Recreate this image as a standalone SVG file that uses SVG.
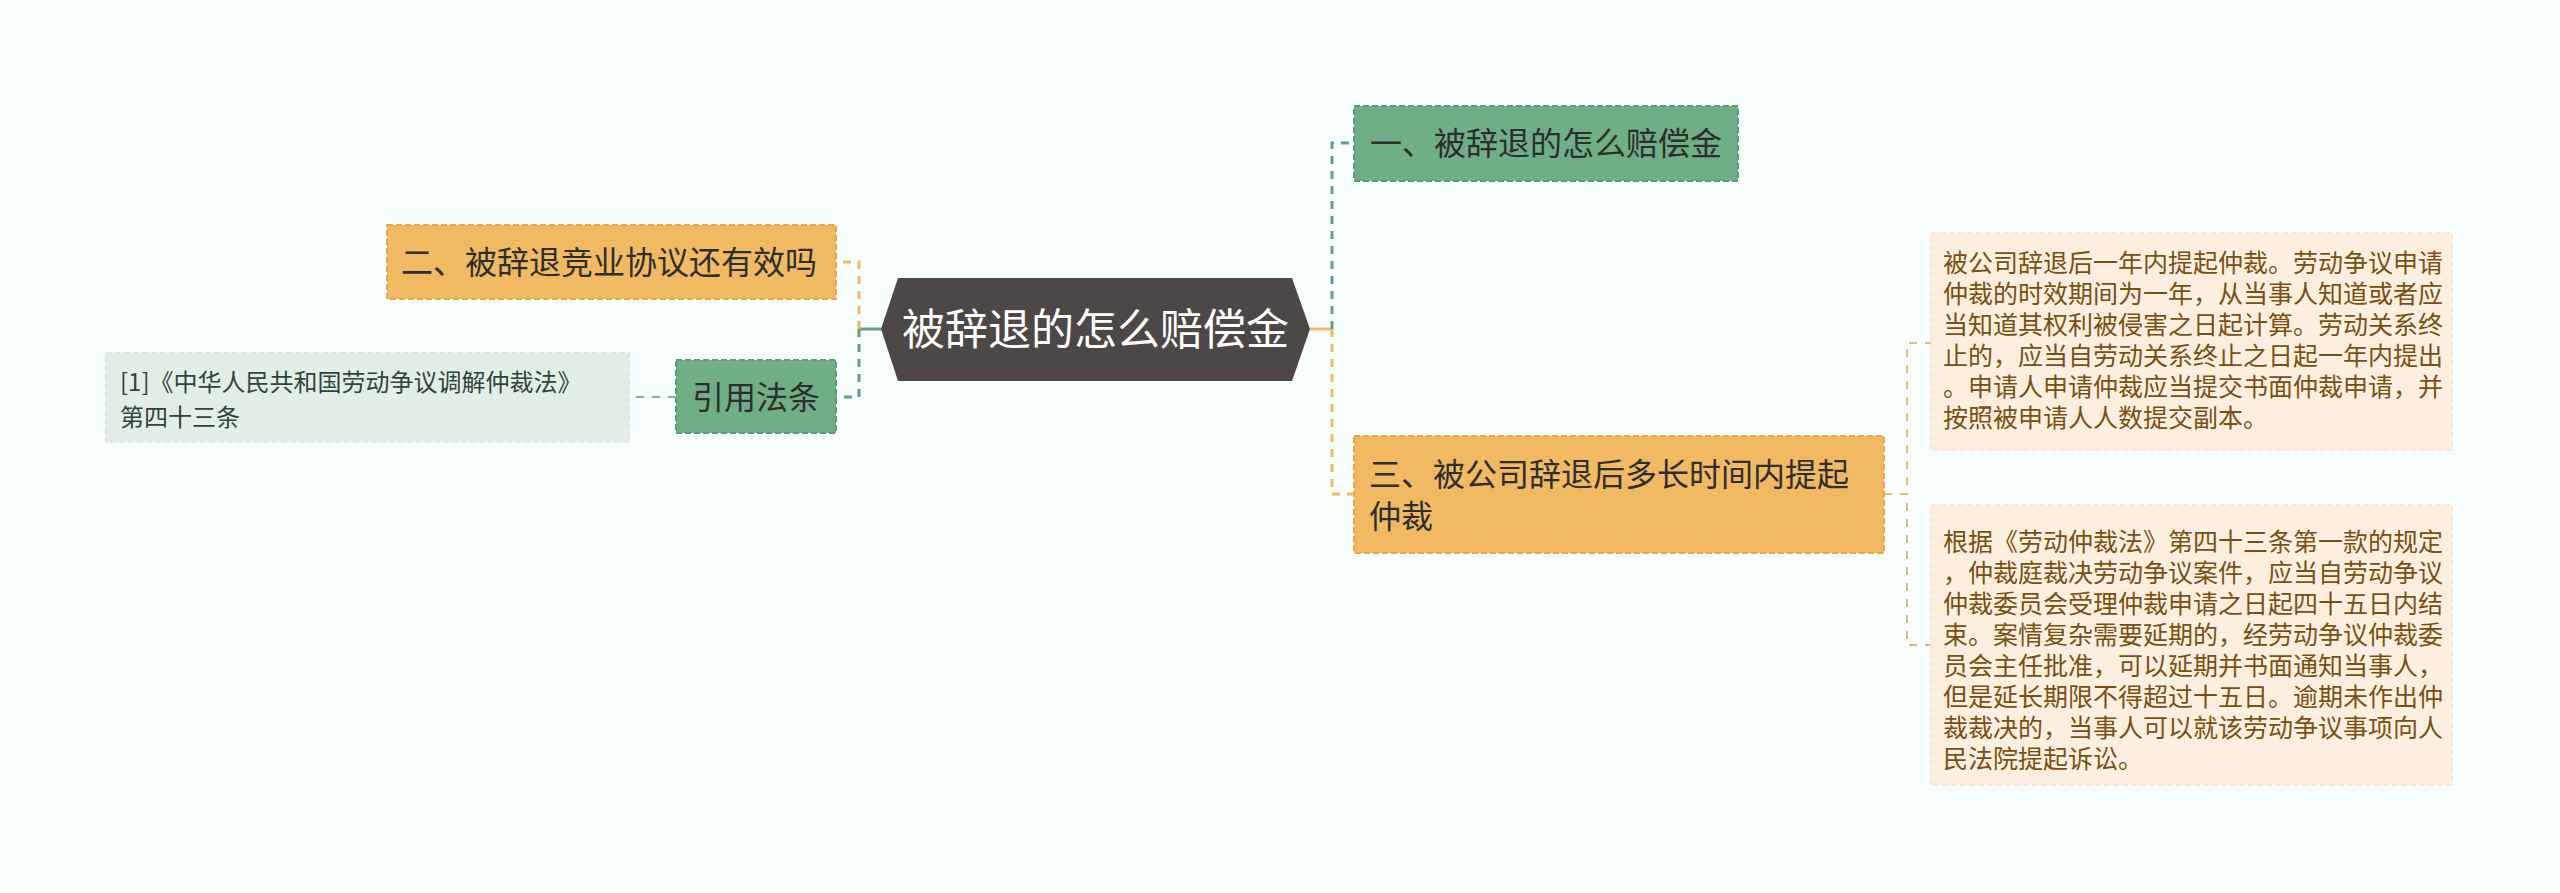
<svg xmlns="http://www.w3.org/2000/svg" width="2560" height="893" viewBox="0 0 2560 893">
<style>
  text { font-family: "Noto Sans CJK SC", "Noto Sans", sans-serif; }
  .n-or { fill: #f0b962; stroke: #e3a74e; stroke-width: 2; stroke-dasharray: 6 3; }
  .n-gr { fill: #6fae87; stroke: #5c9c76; stroke-width: 2; stroke-dasharray: 6 3; }
  .t-node { font-size: 32px; fill: #2e2e2e; }
  .leaf-or { fill: #fcefe0; stroke: #f6e3cd; stroke-width: 1.5; stroke-dasharray: 6 3; }
  .leaf-gr { fill: #e2efe7; stroke: #d6e8dc; stroke-width: 1.5; stroke-dasharray: 6 3; }
  .t-leaf-or { font-size: 25px; fill: #7a5012; }
  .t-leaf-gr { font-size: 24px; fill: #30453a; }
  .c-solid-gr { fill: none; stroke: #5fa27e; stroke-width: 3; }
  .c-solid-or { fill: none; stroke: #f0b962; stroke-width: 3; }
  .c-gr { fill: none; stroke: #5fa27e; stroke-width: 3; stroke-dasharray: 8 7; }
  .c-or { fill: none; stroke: #f0b962; stroke-width: 3; stroke-dasharray: 8 7; }
  .c-thin-or { fill: none; stroke: #e6b97c; stroke-width: 2; stroke-dasharray: 8 8; }
  .c-thin-gr { fill: none; stroke: #86ad96; stroke-width: 2; stroke-dasharray: 8 8; }
</style>
<rect x="0" y="0" width="2560" height="893" fill="#f8fdfd"/>

<g id="connectors">
  <path class="c-solid-gr" d="M881,329 H859"/>
  <path class="c-or" d="M859,329 V262 H836"/>
  <path class="c-gr" d="M859,329 V397 H836"/>
  <path class="c-thin-gr" d="M676,397 H629"/>
  <path class="c-solid-or" d="M1310,329 H1332"/>
  <path class="c-gr" d="M1332,329 V143 H1354"/>
  <path class="c-or" d="M1332,329 V494 H1354"/>
  <path class="c-thin-or" d="M1884,494 H1907 V343 H1931"/>
  <path class="c-thin-or" d="M1884,494 H1907 V645 H1931"/>
</g>

<g id="root">
  <polygon points="881,329 898,278 1292,278 1310,329 1292,381 898,381" fill="#4d4747"/>
  <text x="1095.5" y="345" font-size="43" fill="#ffffff" text-anchor="middle">被辞退的怎么赔偿金</text>
</g>

<g id="node-yi">
  <rect class="n-gr" x="1354" y="106" width="384" height="75"/>
  <text class="t-node" x="1370" y="155">一、被辞退的怎么赔偿金</text>
</g>

<g id="node-er">
  <rect class="n-or" x="387" y="225" width="449" height="74"/>
  <text class="t-node" x="401" y="274">二、被辞退竞业协议还有效吗</text>
</g>

<g id="node-san">
  <rect class="n-or" x="1354" y="436" width="530" height="117"/>
  <text class="t-node" x="1369" y="486">三、被公司辞退后多长时间内提起</text>
  <text class="t-node" x="1369" y="528">仲裁</text>
</g>

<g id="node-yinyong">
  <rect class="n-gr" x="676" y="360" width="160" height="73"/>
  <text class="t-node" x="692" y="409">引用法条</text>
</g>

<g id="leaf-citation">
  <rect class="leaf-gr" x="106" y="353" width="523" height="89"/>
  <text class="t-leaf-gr" x="120" y="391">[1]《中华人民共和国劳动争议调解仲裁法》</text>
  <text class="t-leaf-gr" x="120" y="426">第四十三条</text>
</g>

<g id="leaf-1">
  <rect class="leaf-or" x="1931" y="233" width="521" height="217"/>
  <text class="t-leaf-or" x="1943">
    <tspan x="1943" y="272">被公司辞退后一年内提起仲裁。劳动争议申请</tspan>
    <tspan x="1943" y="303">仲裁的时效期间为一年，从当事人知道或者应</tspan>
    <tspan x="1943" y="334">当知道其权利被侵害之日起计算。劳动关系终</tspan>
    <tspan x="1943" y="365">止的，应当自劳动关系终止之日起一年内提出</tspan>
    <tspan x="1943" y="396">。申请人申请仲裁应当提交书面仲裁申请，并</tspan>
    <tspan x="1943" y="427">按照被申请人人数提交副本。</tspan>
  </text>
</g>

<g id="leaf-2">
  <rect class="leaf-or" x="1931" y="505" width="521" height="280"/>
  <text class="t-leaf-or" x="1943">
    <tspan x="1943" y="551">根据《劳动仲裁法》第四十三条第一款的规定</tspan>
    <tspan x="1943" y="582">，仲裁庭裁决劳动争议案件，应当自劳动争议</tspan>
    <tspan x="1943" y="613">仲裁委员会受理仲裁申请之日起四十五日内结</tspan>
    <tspan x="1943" y="644">束。案情复杂需要延期的，经劳动争议仲裁委</tspan>
    <tspan x="1943" y="675">员会主任批准，可以延期并书面通知当事人，</tspan>
    <tspan x="1943" y="706">但是延长期限不得超过十五日。逾期未作出仲</tspan>
    <tspan x="1943" y="737">裁裁决的，当事人可以就该劳动争议事项向人</tspan>
    <tspan x="1943" y="768">民法院提起诉讼。</tspan>
  </text>
</g>
</svg>
